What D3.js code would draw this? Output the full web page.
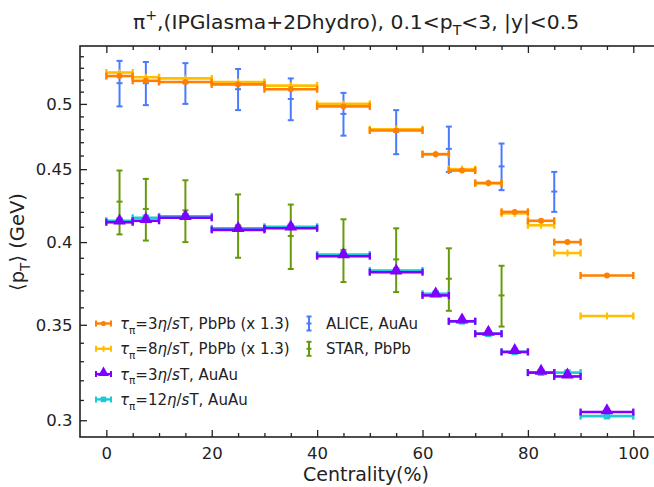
<!DOCTYPE html>
<html>
<head>
<meta charset="utf-8">
<script src="https://cdn.jsdelivr.net/npm/d3@7"></script>
<style>
  body { margin: 0; background: #fff; }
  svg { font-family: "DejaVu Sans", sans-serif; }
</style>
</head>
<body>
<div id="chart"></div>
<script>
// centrality bins of the model curves
var binLo = [0, 5, 10, 20, 30, 40, 50, 60, 65, 70, 75, 80, 85, 90];
var binHi = [5, 10, 20, 30, 40, 50, 60, 65, 70, 75, 80, 85, 90, 100];

// model <pT> values (GeV)
var pbpbTau3 = [0.523, 0.519, 0.518, 0.516, 0.512, 0.498, 0.479, 0.461, 0.449, 0.440, 0.420, 0.414, 0.400, 0.379];
var pbpbTau8 = [0.526, 0.522, 0.521, 0.518, 0.515, 0.500, 0.480, 0.461, 0.450, 0.440, 0.419, 0.411, 0.393, 0.355];
var auauTau3 = [0.413, 0.414, 0.416, 0.408, 0.409, 0.391, 0.381, 0.367, 0.352, 0.345, 0.335, 0.324, 0.322, 0.304];
var auauTau12 = [0.414, 0.416, 0.417, 0.409, 0.410, 0.392, 0.382, 0.368, 0.352, 0.345, 0.335, 0.324, 0.324, 0.302];

// experimental points
var aliceCent = [2.5, 7.5, 15, 25, 35, 45, 55, 65, 75, 85];
var aliceMean = [0.517, 0.517, 0.517, 0.512, 0.504, 0.492, 0.478, 0.465, 0.452, 0.434];
var aliceErr = [0.019, 0.018, 0.017, 0.017, 0.017, 0.017, 0.017, 0.017, 0.017, 0.014];

var starCent = [2.5, 7.5, 15, 25, 35, 45, 55, 65, 75];
var starMean = [0.427, 0.422, 0.421, 0.411, 0.404, 0.395, 0.389, 0.377, 0.367];
var starErr = [0.022, 0.021, 0.021, 0.021, 0.021, 0.020, 0.020, 0.019, 0.018];

// ticks
var xMajor = [0, 20, 40, 60, 80, 100];
var xMinor = [5, 10, 15, 25, 30, 35, 45, 50, 55, 65, 70, 75, 85, 90, 95];
var yMajor = [0.3, 0.35, 0.4, 0.45, 0.5];
var yMinor = [0.31, 0.32, 0.33, 0.34, 0.36, 0.37, 0.38, 0.39, 0.41, 0.42, 0.43, 0.44,
              0.46, 0.47, 0.48, 0.49, 0.51, 0.52, 0.53, 0.54];

var margin = {top: 46, left: 80},
    width = 577,
    height = 391;

var svg = d3.select("#chart").append("svg")
    .attr("width", 654)
    .attr("height", 487);

var g = svg.append("g")
    .attr("transform", "translate(" + margin.left + "," + margin.top + ")");

var x = d3.scaleLinear().domain([-5, 104.5]).range([0, width]);
var y = d3.scaleLog().domain([0.292, 0.549]).range([height, 0]);

// text with sub/superscripts and italics
function richText(sel, parts, size) {
    var shift = 0;
    parts.forEach(function (p) {
        var target = p[1] === "sub" ? size * 0.32 : (p[1] === "sup" ? -size * 0.42 : 0);
        var ts = sel.append("tspan").text(p[0]).attr("dy", target - shift);
        if (p[1] === "sub" || p[1] === "sup") ts.attr("font-size", size * 0.7);
        if (p[1] === "i") ts.attr("font-style", "italic");
        shift = target;
    });
}

// axes (ticks point inward)
function styleAxis(sel) {
    sel.select(".domain").remove();
    sel.selectAll(".tick line").attr("stroke", "#222").attr("stroke-width", 1.3);
    sel.selectAll("text").attr("fill", "#222").attr("font-size", 16.5)
        .attr("font-family", "DejaVu Sans");
}

g.append("g")
    .attr("transform", "translate(0," + height + ")")
    .call(d3.axisBottom(x).tickValues(xMajor).tickSize(-7).tickSizeOuter(0).tickPadding(10))
    .call(styleAxis);
g.append("g")
    .attr("transform", "translate(0," + height + ")")
    .call(d3.axisBottom(x).tickValues(xMinor).tickSize(-4).tickSizeOuter(0).tickFormat(""))
    .call(styleAxis);
g.append("g")
    .call(d3.axisTop(x).tickValues(xMajor).tickSize(-7).tickSizeOuter(0).tickFormat(""))
    .call(styleAxis);
g.append("g")
    .call(d3.axisTop(x).tickValues(xMinor).tickSize(-4).tickSizeOuter(0).tickFormat(""))
    .call(styleAxis);
g.append("g")
    .call(d3.axisLeft(y).tickValues(yMajor).tickSize(-7).tickSizeOuter(0).tickPadding(7.5)
        .tickFormat(function (d) { return String(d); }))
    .call(styleAxis);
g.append("g")
    .call(d3.axisLeft(y).tickValues(yMinor).tickSize(-4).tickSizeOuter(0).tickFormat(""))
    .call(styleAxis);

// frame
g.append("rect")
    .attr("width", width)
    .attr("height", height)
    .attr("fill", "none")
    .attr("stroke", "#222")
    .attr("stroke-width", 1.6);

// vertical error bars (experiment)
function vErrors(cent, mean, err, color) {
    var eg = g.append("g").attr("stroke", color).attr("stroke-width", 2);
    cent.forEach(function (c, i) {
        var cx = x(c), top = y(mean[i] + err[i]), bot = y(mean[i] - err[i]);
        eg.append("line").attr("x1", cx).attr("x2", cx).attr("y1", top).attr("y2", bot);
        [top, y(mean[i]), bot].forEach(function (yy) {
            eg.append("line").attr("x1", cx - 3).attr("x2", cx + 3).attr("y1", yy).attr("y2", yy);
        });
    });
}

// horizontal bin bars (models)
function hBars(vals, color, marker) {
    var mg = g.append("g");
    vals.forEach(function (v, i) {
        var x0 = x(binLo[i]), x1 = x(binHi[i]), yy = y(v), xm = x((binLo[i] + binHi[i]) / 2);
        mg.append("line").attr("x1", x0).attr("x2", x1).attr("y1", yy).attr("y2", yy)
            .attr("stroke", color).attr("stroke-width", 2.6);
        [x0, x1].forEach(function (xx) {
            mg.append("line").attr("x1", xx).attr("x2", xx).attr("y1", yy - 3.5).attr("y2", yy + 3.5)
                .attr("stroke", color).attr("stroke-width", 2.4);
        });
        drawMarker(mg, marker, xm, yy, color, 1);
    });
}

function drawMarker(sel, marker, cx, cy, color, s) {
    if (marker === "circle") {
        sel.append("circle").attr("cx", cx).attr("cy", cy).attr("r", 3 * s).attr("fill", color);
    } else if (marker === "vline") {
        sel.append("line").attr("x1", cx).attr("x2", cx).attr("y1", cy - 3.5 * s).attr("y2", cy + 3.5 * s)
            .attr("stroke", color).attr("stroke-width", 2);
    } else if (marker === "triangle") {
        sel.append("path").attr("d", d3.symbol(d3.symbolTriangle, 70 * s * s)())
            .attr("transform", "translate(" + cx + "," + (cy - 1.5 * s) + ")").attr("fill", color);
    } else if (marker === "square") {
        sel.append("rect").attr("x", cx - 3.3 * s).attr("y", cy - 3.3 * s)
            .attr("width", 6.6 * s).attr("height", 6.6 * s).attr("fill", color);
    }
}

var cOrange = "#ff7f00", cGold = "#ffbf00", cPurple = "#7f00ff", cCyan = "#1ec8d9",
    cBlue = "#4a7bff", cGreen = "#679a0a";

vErrors(aliceCent, aliceMean, aliceErr, cBlue);
vErrors(starCent, starMean, starErr, cGreen);
hBars(auauTau12, cCyan, "square");
hBars(auauTau3, cPurple, "triangle");
hBars(pbpbTau8, cGold, "vline");
hBars(pbpbTau3, cOrange, "circle");

// legend
var legendLeft = [
    {color: cOrange, marker: "circle", parts: [["τ", "i"], ["π", "sub"], ["=3"], ["η", "i"], ["/"], ["s", "i"], ["T, PbPb (x 1.3)"]]},
    {color: cGold, marker: "vline", parts: [["τ", "i"], ["π", "sub"], ["=8"], ["η", "i"], ["/"], ["s", "i"], ["T, PbPb (x 1.3)"]]},
    {color: cPurple, marker: "triangle", parts: [["τ", "i"], ["π", "sub"], ["=3"], ["η", "i"], ["/"], ["s", "i"], ["T, AuAu"]]},
    {color: cCyan, marker: "square", parts: [["τ", "i"], ["π", "sub"], ["=12"], ["η", "i"], ["/"], ["s", "i"], ["T, AuAu"]]}
];
var legendRight = [
    {color: cBlue, label: "ALICE, AuAu"},
    {color: cGreen, label: "STAR, PbPb"}
];

var lg = svg.append("g");
legendLeft.forEach(function (d, i) {
    var cy = 323.5 + i * 25.3;
    lg.append("line").attr("x1", 96).attr("x2", 111).attr("y1", cy).attr("y2", cy)
        .attr("stroke", d.color).attr("stroke-width", 2.4);
    [96, 111].forEach(function (xx) {
        lg.append("line").attr("x1", xx).attr("x2", xx).attr("y1", cy - 3).attr("y2", cy + 3)
            .attr("stroke", d.color).attr("stroke-width", 2);
    });
    drawMarker(lg, d.marker, 103.5, cy, d.color, 0.85);
    var t = lg.append("text").attr("x", 120).attr("y", cy + 5.5)
        .attr("font-size", 15).attr("fill", "#222");
    richText(t, d.parts, 15);
});
legendRight.forEach(function (d, i) {
    var cy = 323.5 + i * 25.3, cx = 309;
    lg.append("line").attr("x1", cx).attr("x2", cx).attr("y1", cy - 7).attr("y2", cy + 7)
        .attr("stroke", d.color).attr("stroke-width", 2);
    [cy - 7, cy, cy + 7].forEach(function (yy) {
        lg.append("line").attr("x1", cx - 2.5).attr("x2", cx + 2.5).attr("y1", yy).attr("y2", yy)
            .attr("stroke", d.color).attr("stroke-width", 2);
    });
    lg.append("text").attr("x", 326).attr("y", cy + 5.5)
        .attr("font-size", 15).attr("fill", "#222").text(d.label);
});

// title and axis labels
var title = svg.append("text")
    .attr("x", 356).attr("y", 29)
    .attr("text-anchor", "middle").attr("font-size", 20.3).attr("fill", "#222");
richText(title, [["π"], ["+", "sup"], [",(IPGlasma+2Dhydro), 0.1<p"], ["T", "sub"], ["<3, |y|<0.5"]], 20.3);

svg.append("text")
    .attr("x", 366).attr("y", 481)
    .attr("text-anchor", "middle").attr("font-size", 19).attr("fill", "#222")
    .text("Centrality(%)");

var ylab = svg.append("text")
    .attr("transform", "translate(24,242) rotate(-90)")
    .attr("text-anchor", "middle").attr("font-size", 19.5).attr("fill", "#222");
richText(ylab, [["⟨p"], ["T", "sub"], ["⟩ (GeV)"]], 19.5);
</script>
</body>
</html>
